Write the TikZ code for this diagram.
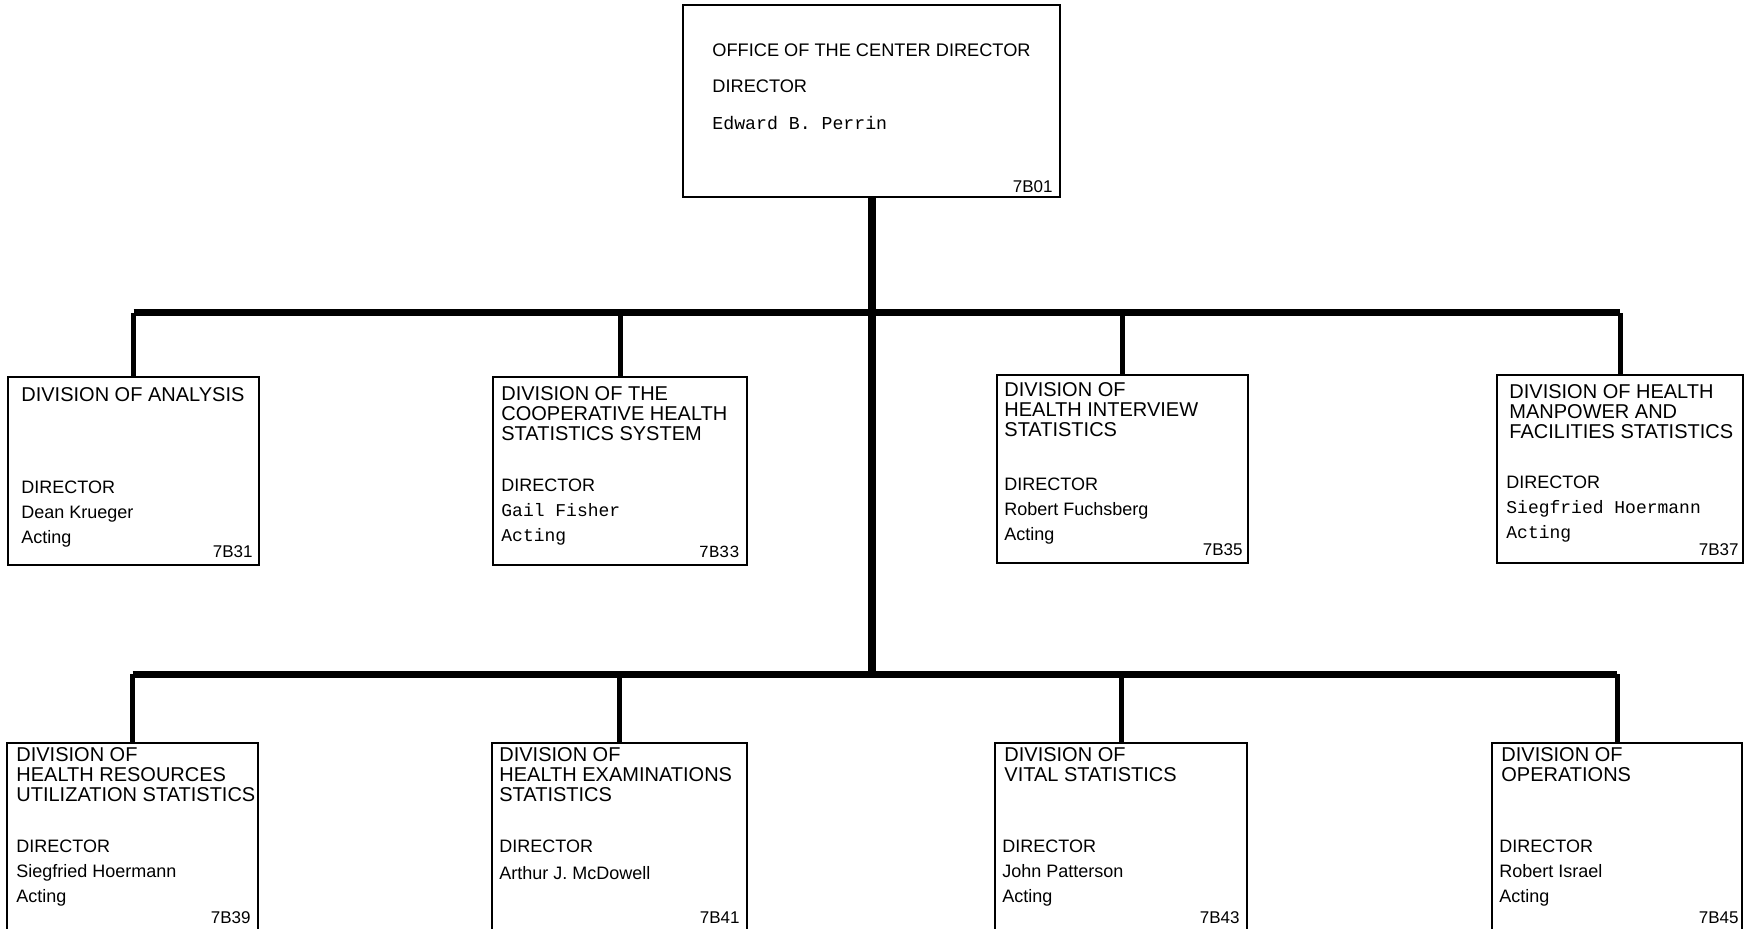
\documentclass[tikz,border=0pt]{standalone}
\usepackage{fontspec}
\setmainfont{Liberation Sans}
\setmonofont{Liberation Mono}
\usetikzlibrary{positioning}

\begin{document}
\begin{tikzpicture}[x=0.5pt, y=-0.5pt,
            box/.style={draw, line width=1pt, minimum width=#1, minimum height=94pt, inner sep=0pt},
            box/.default=125.5pt,
            head/.style={align=left, inner sep=0pt, font=\fontsize{10}{10}\selectfont},
            dir/.style={align=left, inner sep=0pt, font=\fontsize{9}{12.5}\selectfont},
            room/.style={inner sep=0pt, font=\fontsize{8.5}{10}\selectfont},
            bus/.style={line width=3.5pt},
            trunk/.style={line width=4pt},
            drop/.style={line width=2.5pt}]
        \clip (0,0) rectangle (1744,929);

        % office of the director
        \node[box=188.5pt, minimum height=96pt] (ocd) at (871.5,101) {};
        \node[dir, font=\fontsize{9.1}{18.25}\selectfont, below right=19.5pt and 15pt of ocd.north west] (ocdT) {OFFICE OF THE CENTER DIRECTOR\\DIRECTOR\\\texttt{Edward B. Perrin}};
        \node[room, above left=2.5pt and 4pt of ocd.south east] (ocdR) {7B01};

        % first row of divisions
        \node[box] (ana) at (133.5,471) {};
        \node[head, below right=5.8pt and 7pt of ana.north west] (anaT) {DIVISION OF ANALYSIS};
        \node[dir, below right=52.5pt and 7pt of ana.north west] (anaD) {DIRECTOR\\Dean Krueger\\Acting};
        \node[room, above left=4pt and 3.5pt of ana.south east] (anaR) {7B31};

        \node[box=127pt] (coop) at (620,471) {};
        \node[head, below right=5.3pt and 4.5pt of coop.north west] (coopT) {DIVISION OF THE\\COOPERATIVE HEALTH\\STATISTICS SYSTEM};
        \node[dir, below right=51.5pt and 4.5pt of coop.north west] (coopD) {DIRECTOR\\\texttt{Gail Fisher}\\\texttt{Acting}};
        \node[room, above left=4pt and 4pt of coop.south east] (coopR) {\texttt{7B33}};

        \node[box] (hint) at (1122.5,469.5) {};
        \node[head, below right=3.8pt and 4pt of hint.north west] (hintT) {DIVISION OF\\HEALTH INTERVIEW\\STATISTICS};
        \node[dir, below right=51.5pt and 4pt of hint.north west] (hintD) {DIRECTOR\\Robert Fuchsberg\\Acting};
        \node[room, above left=4pt and 3pt of hint.south east] (hintR) {7B35};

        \node[box=123pt] (hmf) at (1620,469.5) {};
        \node[head, below right=4.8pt and 6.5pt of hmf.north west] (hmfT) {DIVISION OF HEALTH\\MANPOWER AND\\FACILITIES STATISTICS};
        \node[dir, below right=50.5pt and 5pt of hmf.north west] (hmfD) {DIRECTOR\\\texttt{Siegfried Hoermann}\\\texttt{Acting}};
        \node[room, above left=4pt and 2.5pt of hmf.south east] (hmfR) {7B37};

        % second row of divisions
        \node[box, minimum height=96pt] (res) at (132.5,839) {};
        \node[head, below right=2.5pt and 5pt of res.north west] (resT) {DIVISION OF\\HEALTH RESOURCES\\UTILIZATION STATISTICS};
        \node[dir, below right=49pt and 5pt of res.north west] (resD) {DIRECTOR\\Siegfried Hoermann\\Acting};
        \node[room, above left=6pt and 4pt of res.south east] (resR) {7B39};

        \node[box=127.5pt, minimum height=96pt] (exam) at (619.5,839) {};
        \node[head, below right=2.5pt and 4pt of exam.north west] (examT) {DIVISION OF\\HEALTH EXAMINATIONS\\STATISTICS};
        \node[dir, font=\fontsize{9}{13.5}\selectfont, below right=49pt and 4pt of exam.north west] (examD) {DIRECTOR\\Arthur J. McDowell};
        \node[room, above left=6pt and 4pt of exam.south east] (examR) {7B41};

        \node[box=126pt, minimum height=96pt] (vital) at (1121,839) {};
        \node[head, below right=2.5pt and 5pt of vital.north west] (vitalT) {DIVISION OF\\VITAL STATISTICS};
        \node[dir, below right=49pt and 4pt of vital.north west] (vitalD) {DIRECTOR\\John Patterson\\Acting};
        \node[room, above left=6pt and 4pt of vital.south east] (vitalR) {7B43};

        \node[box=125pt, minimum height=96pt] (ops) at (1617,839) {};
        \node[head, below right=2.5pt and 5pt of ops.north west] (opsT) {DIVISION OF\\OPERATIONS};
        \node[dir, below right=49pt and 4pt of ops.north west] (opsD) {DIRECTOR\\Robert Israel\\Acting};
        \node[room, above left=6pt and 2pt of ops.south east] (opsR) {7B45};

        % lines
        \coordinate (hub1) at (ocd.south |- 0,313);
        \coordinate (hub2) at (ocd.south |- 0,674);
        \draw[trunk] (ocd.south) -- (hub2);
        \draw[bus] (ana.north |- hub1) -- (hmf.north |- hub1);
        \draw[bus] (res.north |- hub2) -- (ops.north |- hub2);
        \foreach \n in {ana,coop,hint,hmf}
            \draw[drop] (\n.north) -- (\n.north |- hub1);
        \foreach \n in {res,exam,vital,ops}
            \draw[drop] (\n.north) -- (\n.north |- hub2);
    \end{tikzpicture}
\end{document}
